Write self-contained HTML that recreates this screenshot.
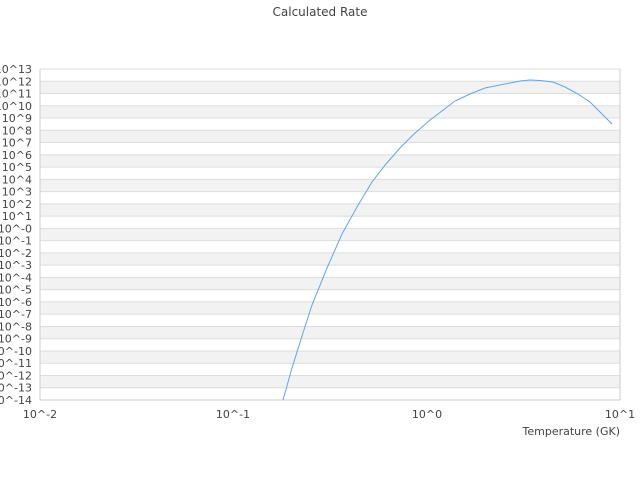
<!DOCTYPE html>
<html><head><style>
body{margin:0;background:#fff;}
svg{display:block;font-family:"DejaVu Sans","Liberation Sans",sans-serif;}
</style></head><body>
<svg width="640" height="480" xmlns="http://www.w3.org/2000/svg">
<rect width="640" height="480" fill="#fff"/>
<text x="320" y="16" font-size="12" fill="#444" text-anchor="middle">Calculated Rate</text>
<g id="bands"></g>
<g id="grid"></g>
<g id="ylab" font-size="11" fill="#444" text-anchor="end"></g>
<line x1="40" y1="400" x2="620" y2="400" stroke="#ccc"/>
<line x1="40" y1="69" x2="40" y2="400" stroke="#ccc"/>
<line x1="620" y1="69" x2="620" y2="400" stroke="#ccc"/>
<g font-size="11" fill="#444" text-anchor="middle">
<text x="40" y="418">10^-2</text>
<text x="233" y="418">10^-1</text>
<text x="427" y="418">10^0</text>
<text x="620" y="418">10^1</text>
</g>
<text x="620" y="435" font-size="11" fill="#444" text-anchor="end">Temperature (GK)</text>
<polyline fill="none" stroke="#5da5f0" stroke-width="1" points="283,400 292,368 302,336 312,305 327,268 342,234 357,207 372,182 386,164 400,148 414,134 430,120 442,111 455,101 470,94 485,88 505,84 520,81 530,80 540,80.5 553,82 565,87 578,94 590,102 600,112 612,124"/>
<script>
var b=document.getElementById('bands'),g=document.getElementById('grid'),l=document.getElementById('ylab');
var ns='http://www.w3.org/2000/svg',h=331/27;
for(var k=0;k<27;k++){if(k%2==1){var r=document.createElementNS(ns,'rect');r.setAttribute('x',40);r.setAttribute('y',69+k*h);r.setAttribute('width',580);r.setAttribute('height',h);r.setAttribute('fill','#f2f2f2');b.appendChild(r);}}
for(var k=0;k<28;k++){var y=69+k*h;var ln=document.createElementNS(ns,'line');ln.setAttribute('x1',40);ln.setAttribute('x2',620);ln.setAttribute('y1',y);ln.setAttribute('y2',y);ln.setAttribute('stroke','#ddd');g.appendChild(ln);
var t=document.createElementNS(ns,'text');t.setAttribute('x',32);t.setAttribute('y',y+4);var e=13-k;t.textContent='10^'+(e==0?'-0':e);l.appendChild(t);}
</script>
</svg>
</body></html>
